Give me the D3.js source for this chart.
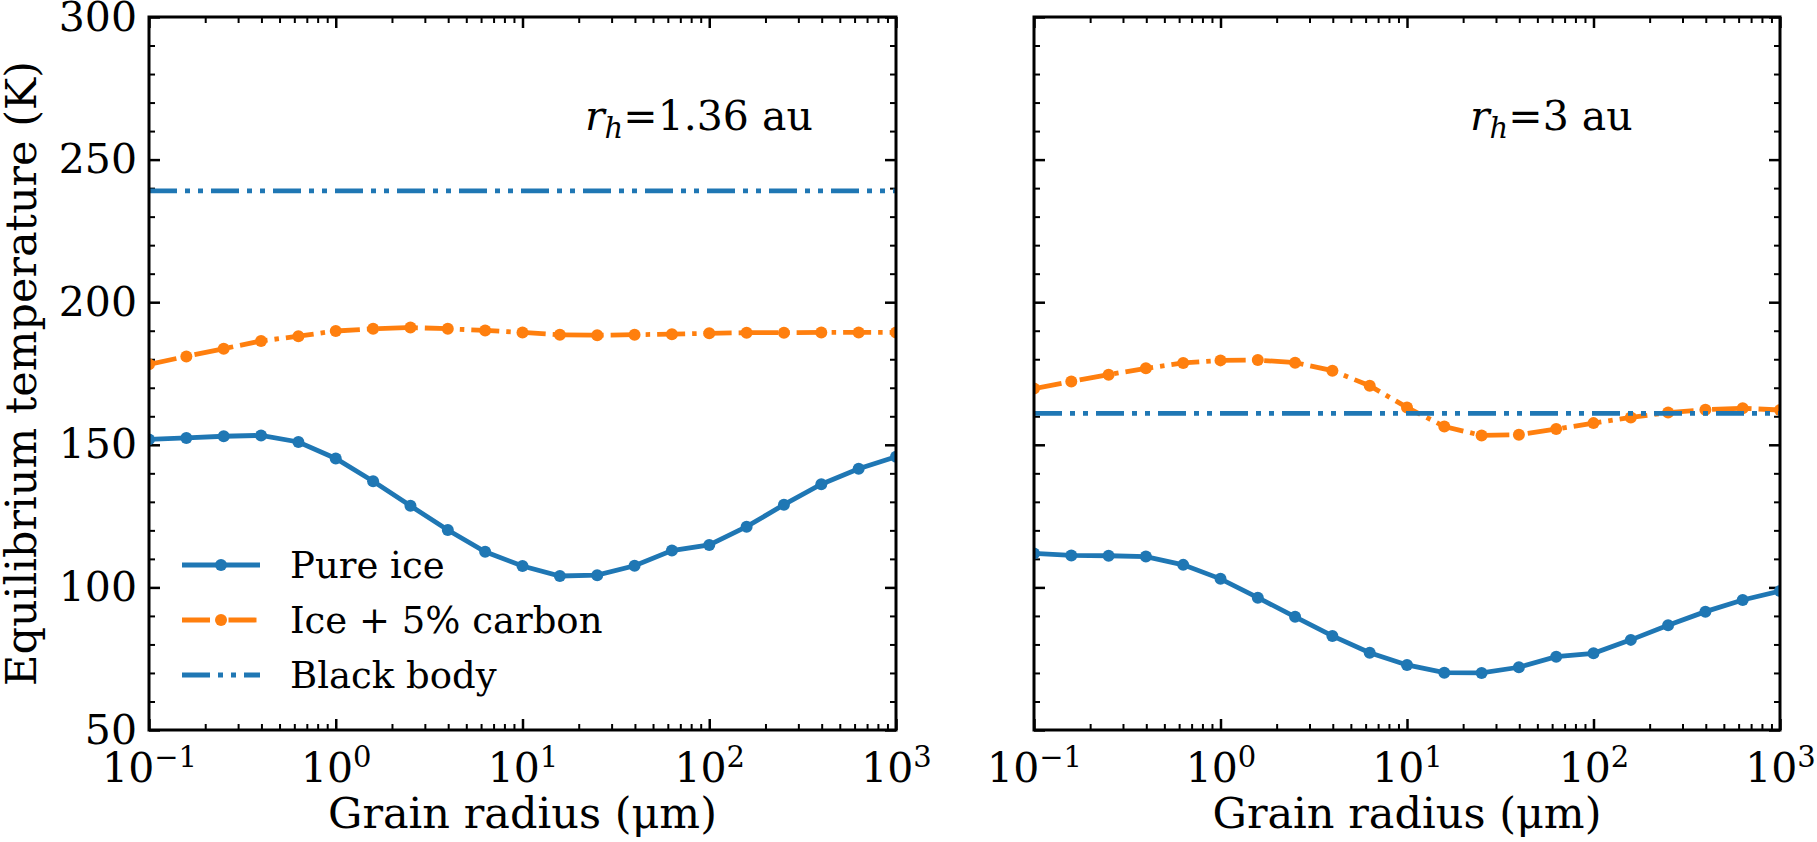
<!DOCTYPE html>
<html>
<head>
<meta charset="utf-8">
<script src="https://cdn.jsdelivr.net/npm/d3@7"></script>
<style>
  body { margin: 0; background: #fff; }
  svg { display: block; }
  text { font-family: "DejaVu Serif", serif; fill: #000; }
</style>
</head>
<body>
<svg id="chart" width="1817" height="842"></svg>
<script>
// grain radii (um), same grid for every curve
var radius = [0.1, 0.1585, 0.2512, 0.3981, 0.631, 1, 1.585, 2.512, 3.981, 6.31, 10,
  15.85, 25.12, 39.81, 63.1, 100, 158.5, 251.2, 398.1, 631, 1000];

// r_h = 1.36 au
var pureIce136 = [151.9, 152.4, 153.0, 153.3, 151.0, 145.2, 137.2, 128.6, 120.1, 112.5, 107.5,
  104.0, 104.3, 107.6, 112.9, 114.9, 121.3, 129.0, 136.2, 141.6, 145.8];
var carbon136 = [178.2, 181.0, 183.7, 186.4, 188.1, 189.9, 190.7, 191.1, 190.7, 190.1, 189.4,
  188.6, 188.4, 188.6, 188.8, 189.1, 189.3, 189.3, 189.4, 189.4, 189.4];
var blackBody136 = 239;

// r_h = 3 au
var pureIce3 = [111.9, 111.2, 111.1, 110.8, 107.9, 103.0, 96.4, 89.7, 83.0, 77.1, 72.8,
  70.1, 70.0, 72.0, 75.7, 76.9, 81.6, 86.7, 91.5, 95.6, 98.7];
var carbon3 = [169.7, 172.2, 174.6, 176.8, 178.7, 179.6, 179.7, 178.8, 176.0, 170.7, 163.1,
  156.4, 153.3, 153.5, 155.5, 157.6, 159.6, 161.3, 162.3, 162.8, 162.2];
var blackBody3 = 161;

var panelLabels = ["1.36 au", "3 au"];
var seriesNames = ["Pure ice", "Ice + 5% carbon", "Black body"];
var xMajor = [0.1, 1, 10, 100, 1000];
var xExponents = ["\u22121", "0", "1", "2", "3"];
var yMajor = [50, 100, 150, 200, 250, 300];

var blue = "#1f77b4", orange = "#ff7f0e";
var lw = 4.8, markerR = 6;
var dashDot = "28,7,4.5,7";
var dashDotDot = "28,8,5,8,5,8";
var fontBig = 41, fontLabel = 43, fontLegend = 37;

var svg = d3.select("#chart");
svg.append("rect").attr("width", 1817).attr("height", 842).attr("fill", "#fff");

var yTop = 17, yBottom = 730;
var panels = [
  { x0: 149, x1: 896, ice: pureIce136, carbon: carbon136, bb: blackBody136, label: panelLabels[0], labelX: 585, yLabels: true },
  { x0: 1034, x1: 1780, ice: pureIce3, carbon: carbon3, bb: blackBody3, label: panelLabels[1], labelX: 1470, yLabels: false }
];

// minor tick values on the log axis
var xMinor = [];
[0.1, 1, 10, 100].forEach(function(d) {
  for (var k = 2; k <= 9; k++) xMinor.push(d * k);
});
var yMinor = d3.range(60, 300, 10).filter(function(v) { return v % 50 != 0; });

panels.forEach(function(p, i) {
  var x = d3.scaleLog().domain([0.1, 1000]).range([p.x0, p.x1]);
  var y = d3.scaleLinear().domain([50, 300]).range([yBottom, yTop]);
  var g = svg.append("g");

  var clipId = "clip" + i;
  svg.append("clipPath").attr("id", clipId).append("rect")
    .attr("x", p.x0).attr("y", yTop).attr("width", p.x1 - p.x0).attr("height", yBottom - yTop);

  // ticks on all four sides, pointing in
  function styleAxis(sel, w) {
    sel.select(".domain").remove();
    sel.selectAll(".tick line").attr("stroke", "#000").attr("stroke-width", w);
  }
  g.append("g").attr("transform", "translate(0," + yBottom + ")")
    .call(d3.axisBottom(x).tickValues(xMinor).tickSize(-6).tickFormat(""))
    .call(styleAxis, 2);
  g.append("g").attr("transform", "translate(0," + yTop + ")")
    .call(d3.axisTop(x).tickValues(xMinor).tickSize(-6).tickFormat(""))
    .call(styleAxis, 2);
  g.append("g").attr("transform", "translate(0," + yTop + ")")
    .call(d3.axisTop(x).tickValues(xMajor).tickSize(-11).tickFormat(""))
    .call(styleAxis, 2.5);
  var xb = g.append("g").attr("transform", "translate(0," + yBottom + ")")
    .call(d3.axisBottom(x).tickValues(xMajor).tickSize(-11).tickPadding(13).tickFormat(""))
    .call(styleAxis, 2.5);
  xb.selectAll(".tick text").each(function(d, j) {
    var t = d3.select(this).attr("font-size", fontBig).attr("font-family", "DejaVu Serif")
      .attr("dy", "0.95em").attr("fill", "#000");
    t.append("tspan").text("10");
    t.append("tspan").attr("dy", "-0.5em").attr("font-size", 29).text(xExponents[j]);
  });

  g.append("g").attr("transform", "translate(" + p.x0 + ",0)")
    .call(d3.axisLeft(y).tickValues(yMinor).tickSize(-6).tickFormat(""))
    .call(styleAxis, 2);
  g.append("g").attr("transform", "translate(" + p.x1 + ",0)")
    .call(d3.axisRight(y).tickValues(yMinor).tickSize(-6).tickFormat(""))
    .call(styleAxis, 2);
  g.append("g").attr("transform", "translate(" + p.x1 + ",0)")
    .call(d3.axisRight(y).tickValues(yMajor).tickSize(-11).tickFormat(""))
    .call(styleAxis, 2.5);
  var yl = g.append("g").attr("transform", "translate(" + p.x0 + ",0)")
    .call(d3.axisLeft(y).tickValues(yMajor).tickSize(-11).tickPadding(12)
      .tickFormat(p.yLabels ? d3.format("d") : ""))
    .call(styleAxis, 2.5);
  yl.selectAll(".tick text").attr("font-size", fontBig).attr("font-family", "DejaVu Serif").attr("fill", "#000");

  // data
  var plot = g.append("g").attr("clip-path", "url(#" + clipId + ")");
  var line = d3.line().x(function(d) { return x(d[0]); }).y(function(d) { return y(d[1]); });

  var iceData = radius.map(function(r, k) { return [r, p.ice[k]]; });
  var carbonData = radius.map(function(r, k) { return [r, p.carbon[k]]; });

  plot.append("path").datum(iceData).attr("d", line)
    .attr("fill", "none").attr("stroke", blue).attr("stroke-width", lw);
  plot.selectAll(".ice").data(iceData).enter().append("circle")
    .attr("cx", function(d) { return x(d[0]); }).attr("cy", function(d) { return y(d[1]); })
    .attr("r", markerR).attr("fill", blue);

  plot.append("path").datum(carbonData).attr("d", line)
    .attr("fill", "none").attr("stroke", orange).attr("stroke-width", lw)
    .attr("stroke-dasharray", dashDot);
  plot.selectAll(".carbon").data(carbonData).enter().append("circle")
    .attr("cx", function(d) { return x(d[0]); }).attr("cy", function(d) { return y(d[1]); })
    .attr("r", markerR).attr("fill", orange);

  plot.append("line")
    .attr("x1", x(0.1)).attr("x2", x(1000)).attr("y1", y(p.bb)).attr("y2", y(p.bb))
    .attr("stroke", blue).attr("stroke-width", lw).attr("stroke-dasharray", dashDotDot);

  // frame
  g.append("rect").attr("x", p.x0).attr("y", yTop)
    .attr("width", p.x1 - p.x0).attr("height", yBottom - yTop)
    .attr("fill", "none").attr("stroke", "#000").attr("stroke-width", 3);

  // panel annotation r_h = ...
  var ann = g.append("text").attr("x", p.labelX).attr("y", 130).attr("font-size", fontBig);
  ann.append("tspan").attr("font-style", "italic").text("r");
  ann.append("tspan").attr("font-style", "italic").attr("font-size", 29).attr("dy", 8).text("h");
  ann.append("tspan").attr("dy", -8).text("=" + p.label);

  // x axis label
  g.append("text").attr("x", (p.x0 + p.x1) / 2).attr("y", 828)
    .attr("text-anchor", "middle").attr("font-size", fontLabel).text("Grain radius (\u03bcm)");
});

// y axis label
svg.append("text").attr("transform", "translate(36," + (yTop + yBottom) / 2 + ") rotate(-90)")
  .attr("text-anchor", "middle").attr("font-size", fontLabel).text("Equilibrium temperature (K)");

// legend (left panel)
var legend = svg.append("g");
var legendRows = [565, 620, 675];
var legendStyles = [
  { color: blue, dash: null, marker: true },
  { color: orange, dash: dashDot, marker: true },
  { color: blue, dash: dashDotDot, marker: false }
];
seriesNames.forEach(function(name, k) {
  var st = legendStyles[k];
  var row = legend.append("g").attr("transform", "translate(0," + legendRows[k] + ")");
  row.append("line").attr("x1", 182).attr("x2", 260).attr("y1", 0).attr("y2", 0)
    .attr("stroke", st.color).attr("stroke-width", lw)
    .attr("stroke-dasharray", st.dash);
  if (st.marker) {
    row.append("circle").attr("cx", 221).attr("cy", 0).attr("r", markerR).attr("fill", st.color);
  }
  row.append("text").attr("x", 290).attr("y", 0).attr("dy", "0.35em")
    .attr("font-size", fontLegend).text(name);
});
</script>
</body>
</html>
